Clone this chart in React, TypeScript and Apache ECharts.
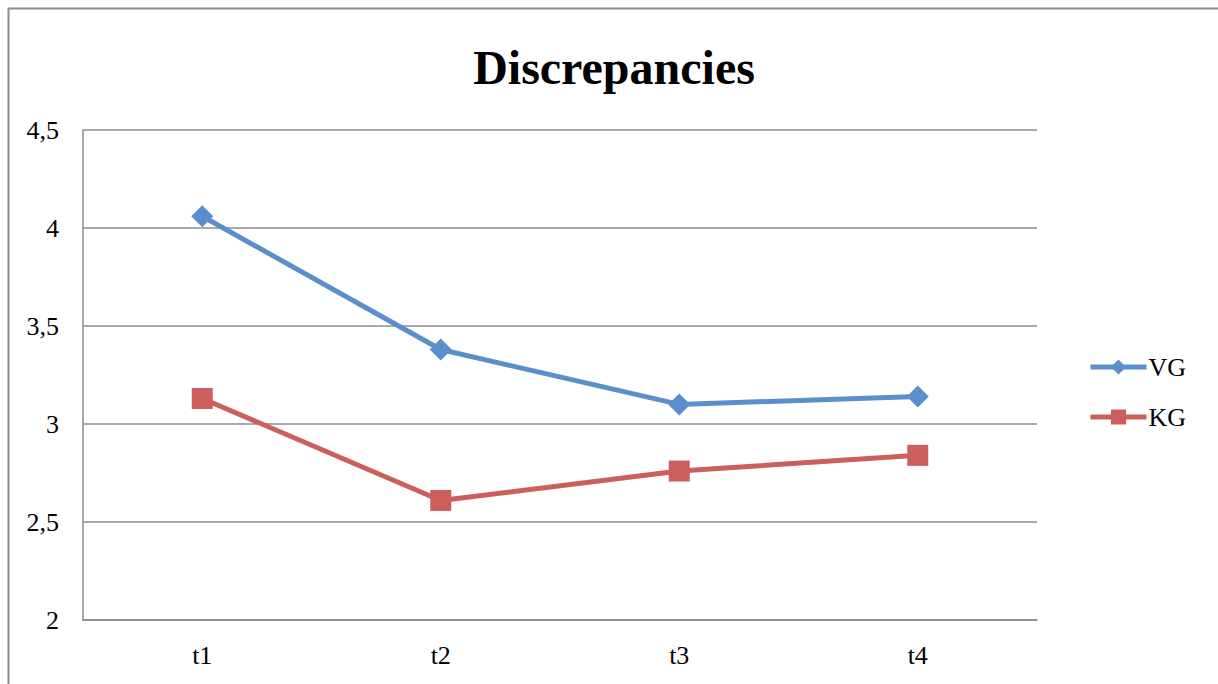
import React, { useEffect, useRef } from "react";
import * as echarts from "echarts";

const categories = ["t1", "t2", "t3", "t4"];
const vgValues = [4.06, 3.38, 3.1, 3.14];
const kgValues = [3.13, 2.61, 2.76, 2.84];
const yTicks = { min: 2, max: 4.5, interval: 0.5 };
const title = "Discrepancies";

export default function App() {
  const ref = useRef<HTMLDivElement>(null);
  useEffect(() => {
    if (!ref.current) return;
    const chart = echarts.init(ref.current, undefined, { renderer: "svg" });
    const font = "'Liberation Serif', 'Times New Roman', serif";
    chart.setOption({
      animation: false,
      backgroundColor: "#ffffff",
      title: {
        text: title,
        left: 609,
        top: 38,
        textAlign: "center",
        textStyle: { fontFamily: font, fontSize: 48, fontWeight: "bold", color: "#000" },
      },
      graphic: [
        { type: "line", shape: { x1: 8, y1: 8.5, x2: 1218, y2: 8.5 }, style: { stroke: "#8c8c8c", lineWidth: 2 } },
        { type: "line", shape: { x1: 8.5, y1: 8, x2: 8.5, y2: 684 }, style: { stroke: "#8c8c8c", lineWidth: 2 } },
      ],
      legend: {
        orient: "vertical",
        left: 1083,
        top: 349,
        itemWidth: 56,
        itemHeight: 19,
        itemGap: 24,
        lineStyle: { width: 5 },
        textStyle: { fontFamily: font, fontSize: 26, color: "#000", padding: [0, 0, 0, -3] },
        data: ["VG", "KG"],
      },
      grid: { left: 83, right: 181, top: 130, bottom: 64, containLabel: false },
      xAxis: {
        type: "category",
        data: categories,
        boundaryGap: true,
        axisLine: { show: true, lineStyle: { color: "#8c8c8c", width: 1.5 } },
        axisTick: { show: false },
        axisLabel: { fontFamily: font, fontSize: 26, color: "#000", margin: 22 },
      },
      yAxis: {
        type: "value",
        min: yTicks.min,
        max: yTicks.max,
        interval: yTicks.interval,
        axisLine: { show: true, lineStyle: { color: "#8c8c8c", width: 1.5 } },
        axisTick: { show: false },
        splitLine: { show: true, lineStyle: { color: "#8c8c8c", width: 1.5 } },
        axisLabel: {
          fontFamily: font,
          fontSize: 26,
          color: "#000",
          margin: 24,
          formatter: (v: number) => String(v).replace(".", ","),
        },
      },
      series: [
        {
          name: "VG",
          type: "line",
          data: vgValues,
          symbol: "diamond",
          symbolSize: 22,
          lineStyle: { color: "#5b8fcc", width: 5 },
          itemStyle: { color: "#5b8fcc" },
        },
        {
          name: "KG",
          type: "line",
          data: kgValues,
          symbol: "rect",
          symbolSize: 21,
          lineStyle: { color: "#cc5f5c", width: 5 },
          itemStyle: { color: "#cc5f5c" },
        },
      ],
    });
    return () => chart.dispose();
  }, []);
  return <div ref={ref} style={{ width: 1218, height: 684, position: "absolute", left: 0, top: 0 }} />;
}
